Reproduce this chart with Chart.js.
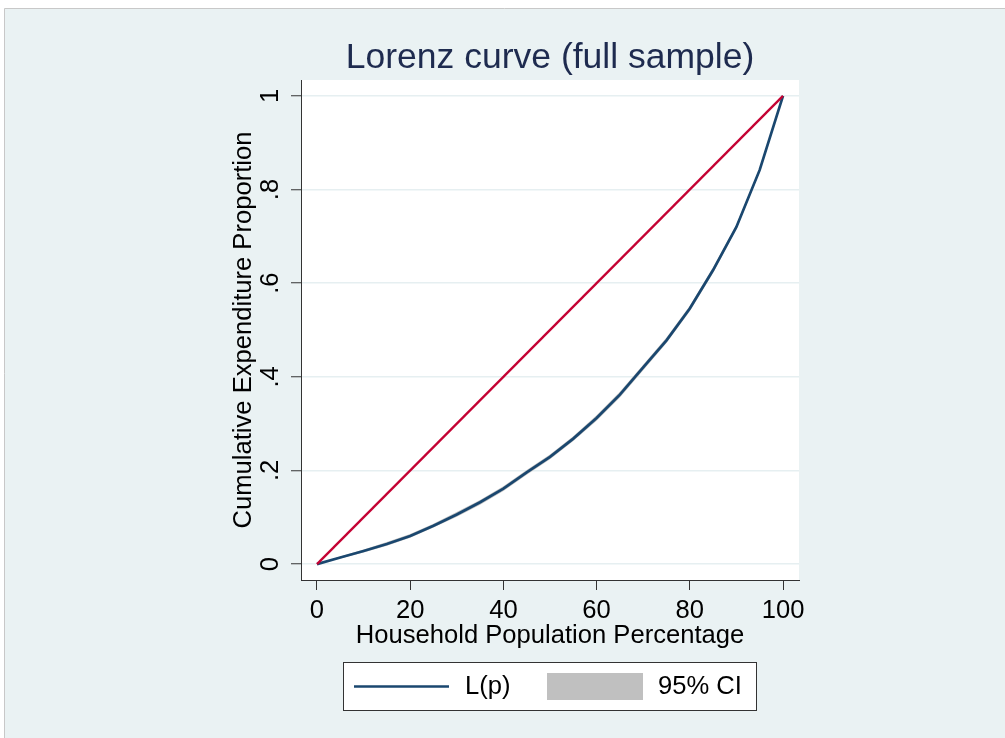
<!DOCTYPE html>
<html>
<head>
<meta charset="utf-8">
<script src="https://cdn.jsdelivr.net/npm/chart.js@4.4.0/dist/chart.umd.min.js"></script>
<style>
  html, body { margin: 0; padding: 0; background: #fff; }
  canvas { display: block; }
</style>
</head>
<body>
<canvas id="lorenzChart" width="1005" height="738"></canvas>
<script>
// values
const populationPct = [0, 5, 10, 15, 20, 25, 30, 35, 40, 45, 50, 55, 60, 65, 70, 75, 80, 85, 90, 95, 100];
const lorenzValues = [0, 0.014, 0.028, 0.043, 0.060, 0.082, 0.106, 0.132, 0.161, 0.196, 0.229, 0.268, 0.312, 0.362, 0.420, 0.478, 0.546, 0.628, 0.720, 0.842, 1];
const ciLower = [0, 0.012, 0.025, 0.039, 0.056, 0.078, 0.101, 0.127, 0.156, 0.191, 0.224, 0.263, 0.306, 0.356, 0.414, 0.472, 0.540, 0.622, 0.715, 0.838, 1];
const ciUpper = [0, 0.016, 0.031, 0.047, 0.064, 0.086, 0.111, 0.137, 0.166, 0.201, 0.234, 0.273, 0.318, 0.368, 0.426, 0.484, 0.552, 0.634, 0.725, 0.846, 1];
const equalityX = [0, 100];
const equalityY = [0, 1];

const xTicks = [0, 20, 40, 60, 80, 100];
const yTicks = [0, 0.2, 0.4, 0.6, 0.8, 1];
const yTickLabels = ['0', '.2', '.4', '.6', '.8', '1'];

const legendLabels = ['L(p)', '95% CI'];

const FONT = "'Liberation Sans', Arial, sans-serif";
const navy = '#1a476f';
const red = '#c40233';
const ciGray = '#c0c0c0';

const toPoints = (xs, ys) => xs.map((x, i) => ({ x: x, y: ys[i] }));

// background, plot region and the legend box drawn by hand (Stata look)
const stataLook = {
    id: 'stataLook',
    beforeDraw(chart) {
        const c = chart.ctx;
        const a = chart.chartArea;
        c.save();
        c.fillStyle = '#ffffff';
        c.fillRect(0, 0, chart.width, chart.height);
        c.fillStyle = '#eaf2f3';
        c.fillRect(5, 9, chart.width - 5, chart.height - 9);
        c.strokeStyle = '#c8c8c8';
        c.lineWidth = 1;
        c.beginPath();
        c.moveTo(4.5, chart.height);
        c.lineTo(4.5, 8.5);
        c.lineTo(chart.width, 8.5);
        c.stroke();
        c.fillStyle = '#ffffff';
        c.fillRect(a.left, a.top, a.right - a.left, a.bottom - a.top);
        c.restore();
    },
    afterDraw(chart) {
        const c = chart.ctx;
        c.save();
        c.fillStyle = '#ffffff';
        c.fillRect(343, 662, 413, 49);
        c.strokeStyle = '#333333';
        c.lineWidth = 1;
        c.strokeRect(343.5, 662.5, 413, 48);

        c.strokeStyle = navy;
        c.lineWidth = 2.5;
        c.beginPath();
        c.moveTo(354, 686.5);
        c.lineTo(449, 686.5);
        c.stroke();

        c.fillStyle = ciGray;
        c.fillRect(547, 673, 96, 27);

        c.fillStyle = '#000000';
        c.font = '25.6px ' + FONT;
        c.textBaseline = 'middle';
        c.textAlign = 'left';
        c.fillText(legendLabels[0], 465, 687);
        c.fillText(legendLabels[1], 658, 687);
        c.restore();
    }
};

const ctx = document.getElementById('lorenzChart');

new Chart(ctx, {
    type: 'line',
    data: {
        datasets: [
            {
                label: 'Equality',
                data: toPoints(equalityX, equalityY),
                borderColor: red,
                borderWidth: 2.3,
                pointRadius: 0,
                fill: false,
                order: 0
            },
            {
                label: legendLabels[0],
                data: toPoints(populationPct, lorenzValues),
                borderColor: navy,
                borderWidth: 2.7,
                pointRadius: 0,
                fill: false,
                order: 1
            },
            {
                label: 'CI upper',
                data: toPoints(populationPct, ciUpper),
                borderWidth: 0,
                borderColor: 'rgba(0,0,0,0)',
                pointRadius: 0,
                fill: '+1',
                backgroundColor: ciGray,
                order: 2
            },
            {
                label: 'CI lower',
                data: toPoints(populationPct, ciLower),
                borderWidth: 0,
                borderColor: 'rgba(0,0,0,0)',
                pointRadius: 0,
                fill: false,
                order: 3
            }
        ]
    },
    options: {
        responsive: false,
        animation: false,
        devicePixelRatio: 1,
        layout: { padding: { left: 0, right: 206, top: 0, bottom: 80 } },
        plugins: {
            legend: { display: false },
            tooltip: { enabled: false },
            title: {
                display: true,
                text: 'Lorenz curve (full sample)',
                color: '#1e2b4f',
                fullSize: false,
                font: { family: FONT, size: 35.5, weight: 'normal' },
                padding: { top: 37, bottom: 0.4 }
            }
        },
        scales: {
            x: {
                type: 'linear',
                min: -3.43,
                max: 103.43,
                afterBuildTicks: s => { s.ticks = xTicks.map(v => ({ value: v })); },
                afterFit: s => { s.height = 78; },
                grid: {
                    color: 'rgba(0,0,0,0)',
                    tickColor: '#333333',
                    tickLength: 10,
                    tickWidth: 1
                },
                border: { color: '#333333', width: 1 },
                ticks: {
                    color: '#000000',
                    padding: 6,
                    maxRotation: 0,
                    font: { family: FONT, size: 25.6 },
                    callback: v => String(v)
                },
                title: {
                    display: true,
                    text: 'Household Population Percentage',
                    color: '#000000',
                    font: { family: FONT, size: 25.6 },
                    padding: { top: 0, bottom: 7 }
                }
            },
            y: {
                type: 'linear',
                min: -0.034,
                max: 1.034,
                afterBuildTicks: s => { s.ticks = yTicks.map(v => ({ value: v })); },
                afterFit: s => { s.width = 301; },
                grid: {
                    color: '#e6eff1',
                    lineWidth: 1.5,
                    tickColor: '#333333',
                    tickLength: 10,
                    tickWidth: 1
                },
                border: { color: '#333333', width: 1 },
                ticks: {
                    color: '#000000',
                    padding: 9.8,
                    minRotation: 90,
                    maxRotation: 90,
                    crossAlign: 'center',
                    font: { family: FONT, size: 25.6 },
                    callback: (v, i) => yTickLabels[i]
                },
                title: {
                    display: true,
                    text: 'Cumulative Expenditure Proportion',
                    color: '#000000',
                    font: { family: FONT, size: 25.6 },
                    padding: { top: 229, bottom: 0 }
                }
            }
        }
    },
    plugins: [stataLook]
});
</script>
</body>
</html>
